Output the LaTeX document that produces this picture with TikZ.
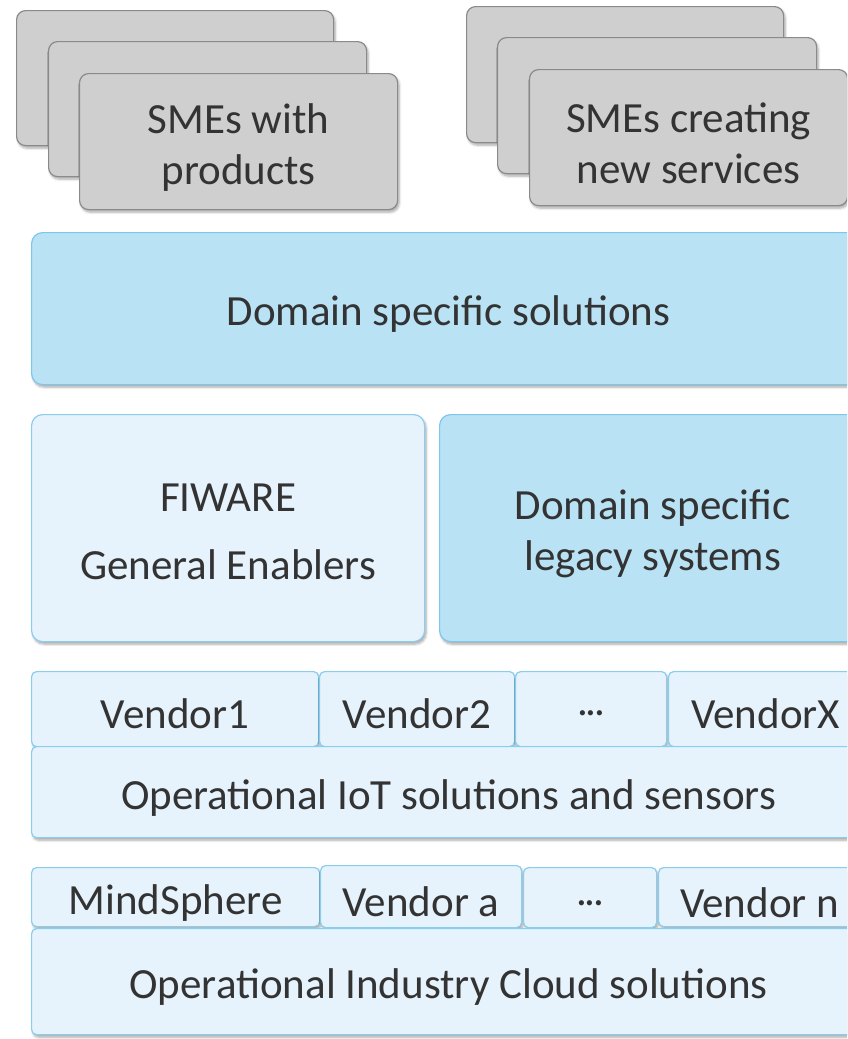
\documentclass[tikz,border=0pt]{standalone}
\usepackage{fontspec}
\setmainfont{Carlito}
\usetikzlibrary{shadows.blur}
\definecolor{txt}{HTML}{333333}
\definecolor{grayfill}{HTML}{CFCFCF}
\definecolor{grayline}{HTML}{8A8A8A}
\definecolor{bluefill}{HTML}{B9E2F5}
\definecolor{blueline}{HTML}{7DC7EA}
\definecolor{lightfill}{HTML}{E6F3FC}
\definecolor{lightline}{HTML}{8ACDEE}
\newcommand{\dotsx}{.\kern-2.5pt.\kern-2.5pt.}
\tikzset{
  base/.style={rectangle, anchor=north west, inner sep=0pt, line width=1.2pt,
    blur shadow={shadow xshift=1.5pt, shadow yshift=-2.5pt, shadow blur steps=6, shadow blur radius=2.5pt, shadow opacity=35}},
  smebox/.style={base, fill=grayfill, draw=grayline, rounded corners=9pt},
  darkbox/.style={base, fill=bluefill, draw=blueline, rounded corners=11pt},
  lightbox/.style={base, fill=lightfill, draw=lightline, rounded corners=11pt},
  vendbox/.style={base, fill=lightfill, draw=lightline, rounded corners=5pt},
  lbl/.style={inner sep=0pt, align=center, text=txt, font=\fontsize{43}{51}\selectfont, anchor=center},
  sz/.style n args={2}{minimum width=#1pt, minimum height=#2pt}
}
\begin{document}
\begin{tikzpicture}[x=1pt,y=-1pt]
\useasboundingbox (0,0) rectangle (847,1039);
\clip (0,0) rectangle (847,1039);
% left stack
\node[smebox, sz={317}{135}] (l1) at (16,10) {};
\node[smebox, sz={318}{135}] (l2) at (48,41) {};
\node[smebox, sz={318}{136}] (l3) at (79,73) {};
\node[lbl] (l3t) at ([yshift=-5.5pt]l3.center) {SMEs with\\products};
% right stack
\node[smebox, sz={317}{136}] (r1) at (466,6) {};
\node[smebox, sz={319}{136}] (r2) at (497,37) {};
\node[smebox, sz={318}{136}] (r3) at (529,69) {};
\node[lbl] (r3t) at ([yshift=-5.5pt]r3.center) {SMEs creating\\new services};
% domain specific solutions
\node[darkbox, sz={834}{152}] (dss) at (31,232) {};
\node[lbl] (dsst) at ([yshift=-5pt]dss.center) {Domain specific solutions};
% middle
\node[lightbox, sz={393}{227}] (fw) at (31,414) {};
\node[lbl] (fwt) at ([yshift=-4pt]fw.center) {FIWARE\\[17pt]General Enablers};
\node[darkbox, sz={426}{227}] (leg) at (439,414) {};
\node[lbl] (legt) at ([yshift=-6pt]leg.center) {Domain specific\\legacy systems};
% IoT
\node[vendbox, sz={287}{75}] (v1) at (31,671) {};
\node[vendbox, sz={195}{75}] (v2) at (319,671) {};
\node[vendbox, sz={151}{75}] (v3) at (515,671) {};
\node[vendbox, sz={194}{75}] (vx) at (668,671) {};
\node[lbl] (v1t) at ([yshift=-4.5pt]v1.center) {Vendor1};
\node[lbl] (v2t) at ([yshift=-4.5pt]v2.center) {Vendor2};
\node[lbl] (v3t) at ([yshift=-4.5pt]v3.center) {\dotsx};
\node[lbl] (vxt) at ([yshift=-4.5pt]vx.center) {VendorX};
\node[vendbox, sz={834}{91}] (iot) at (31,746) {};
\node[lbl] (iott) at ([yshift=-5.5pt]iot.center) {Operational IoT solutions and sensors};
% Cloud
\node[vendbox, sz={288}{59}] (ms) at (31,867) {};
\node[vendbox, sz={201}{62}] (va) at (320,865) {};
\node[vendbox, sz={133}{60}] (vd) at (523,867) {};
\node[vendbox, sz={202}{59}] (vn) at (658,867) {};
\node[lbl] (mst) at ([yshift=-5.5pt]ms.center) {MindSphere};
\node[lbl] (vat) at ([yshift=-5.5pt]va.center) {Vendor a};
\node[lbl] (vdt) at ([yshift=-5.5pt]vd.center) {\dotsx};
\node[lbl] (vnt) at ([yshift=-5.5pt]vn.center) {Vendor n};
\node[vendbox, sz={834}{106}] (cloud) at (31,928) {};
\node[lbl] (cloudt) at ([yshift=-5.5pt]cloud.center) {Operational Industry Cloud solutions};
\end{tikzpicture}
\end{document}
